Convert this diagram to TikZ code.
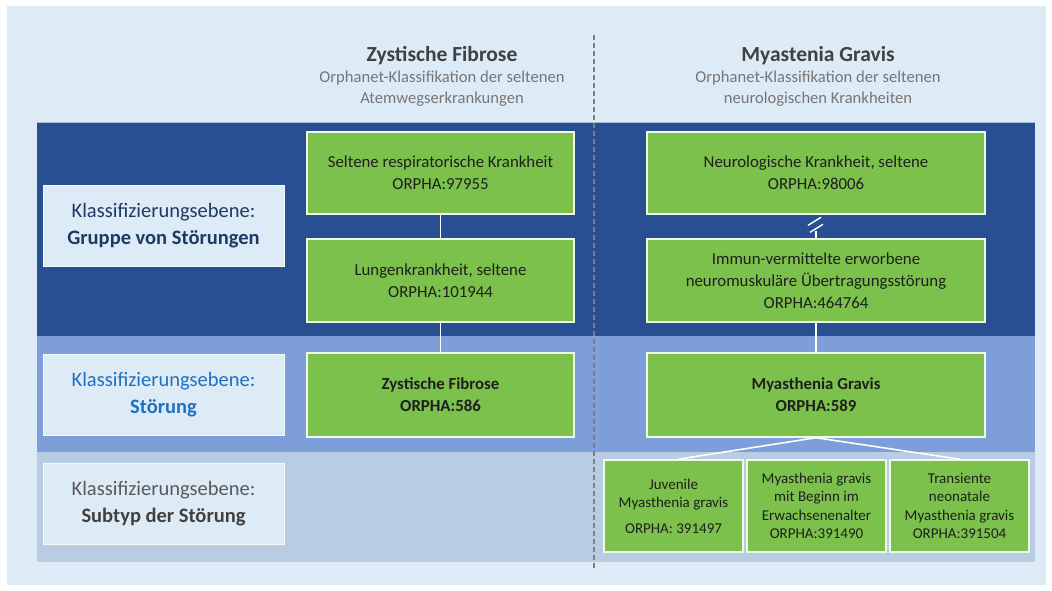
\documentclass[tikz,border=0pt]{standalone}
\usepackage{fontspec}
\setmainfont{Carlito}
\definecolor{bgblue}{HTML}{DDEBF7}
\definecolor{darkband}{HTML}{284F92}
\definecolor{midband}{HTML}{7D9ED8}
\definecolor{lightband}{HTML}{B8CCE4}
\definecolor{boxgreen}{HTML}{7BC14B}
\definecolor{navytext}{HTML}{1F3864}
\definecolor{bluetext}{HTML}{1F70C1}
\definecolor{graytext}{HTML}{595959}
\definecolor{headgray}{HTML}{404040}
\definecolor{subgray}{HTML}{767676}
\definecolor{dashgray}{HTML}{7F7F7F}
\tikzset{
  greenbox/.style={draw=white!88!boxgreen, fill=boxgreen, line width=1.4pt, align=center,
    inner sep=0pt, text=black!88, font=\fontsize{16.8}{22}\selectfont},
  subbox/.style={greenbox, minimum width=139pt, minimum height=92pt, font=\fontsize{15}{18.5}\selectfont},
  labelbox/.style={draw=white!70!bgblue, fill=bgblue, line width=1pt, align=center, inner sep=0pt,
    minimum width=241pt, minimum height=81pt, font=\fontsize{20.5}{27}\selectfont},
  headnode/.style={align=center, inner sep=0pt, text=subgray, font=\fontsize{16.6}{21}\selectfont},
  link/.style={draw=white!92!bgblue, line width=1.6pt}
}
\begin{document}
\begin{tikzpicture}[x=1pt,y=-1pt]
\useasboundingbox (0,0) rectangle (1052,590);
\fill[white] (0,0) rectangle (1052,590);
\fill[bgblue] (7,6) rectangle (1046,585);
% bands
\fill[darkband] (37,122) rectangle (1035,336);
\fill[midband] (37,336) rectangle (1035,452);
\fill[lightband] (37,452) rectangle (1035,562);
\draw[white!60!darkband, line width=0.6pt] (37,122) -- (1035,122);
% dashed separator
\draw[dashgray, line width=1.5pt, dash pattern=on 5pt off 3pt] (594,35) -- (594,568);
% headers
\node[headnode] (h1) at (442,76) {{\fontsize{21.5}{24}\selectfont\bfseries\color{headgray}Zystische Fibrose}\\Orphanet-Klassifikation der seltenen\\Atemwegserkrankungen};
\node[headnode] (h2) at (818,76) {{\fontsize{21.5}{24}\selectfont\bfseries\color{headgray}Myastenia Gravis}\\Orphanet-Klassifikation der seltenen\\neurologischen Krankheiten};
% left labels
\node[labelbox, text=navytext] (l1) at (163.5,225.5) {Klassifizierungsebene:\\\textbf{Gruppe von Störungen}};
\node[labelbox, text=bluetext] (l2) at (163.5,394.5) {Klassifizierungsebene:\\\textbf{Störung}};
\node[labelbox, text=graytext] (l3) at (163.5,504) {Klassifizierungsebene:\\\textbf{\color{headgray}Subtyp der Störung}};
% CF column
\node[greenbox, minimum width=267pt, minimum height=82pt] (c1) at (440.5,173) {Seltene respiratorische Krankheit\\ORPHA:97955};
\node[greenbox, minimum width=267pt, minimum height=83pt] (c2) at (440.5,280.5) {Lungenkrankheit, seltene\\ORPHA:101944};
\node[greenbox, minimum width=267pt, minimum height=84pt] (c3) at (440.5,395) {\textbf{Zystische Fibrose}\\\textbf{ORPHA:586}};
% MG column
\node[greenbox, minimum width=338pt, minimum height=82pt] (m1) at (816,173) {Neurologische Krankheit, seltene\\ORPHA:98006};
\node[greenbox, minimum width=338pt, minimum height=83pt] (m2) at (816,280.5) {Immun-vermittelte erworbene\\neuromuskuläre Übertragungsstörung\\ORPHA:464764};
\node[greenbox, minimum width=338pt, minimum height=84pt] (m3) at (816,395) {\textbf{Myasthenia Gravis}\\\textbf{ORPHA:589}};
% subtypes
\node[subbox] (s1) at (673.5,506) {Juvenile\\Myasthenia gravis\\[7pt]ORPHA: 391497};
\node[subbox] (s2) at (816.5,506) {Myasthenia gravis\\mit Beginn im\\Erwachsenenalter\\ORPHA:391490};
\node[subbox] (s3) at (959.5,506) {Transiente\\neonatale\\Myasthenia gravis\\ORPHA:391504};
% connectors
\draw[link] (c1.south) -- (c2.north);
\draw[link] (c2.south) -- (c3.north);
\draw[link] (m2.south) -- (m3.north);
\coordinate (brk) at ([yshift=7pt]m2.north);
\draw[link] (m2.north) -- (brk);
\draw[link, line width=1.4pt] ([shift={(-6,1)}]brk) -- ++(13,-8);
\draw[link, line width=1.4pt] ([shift={(-8,-6)}]brk) -- ++(13,-8);
\draw[link] (m3.south) -- ([xshift=4pt]s1.north);
\draw[link] (m3.south) -- ([xshift=1pt]s3.north);
\end{tikzpicture}
\end{document}
